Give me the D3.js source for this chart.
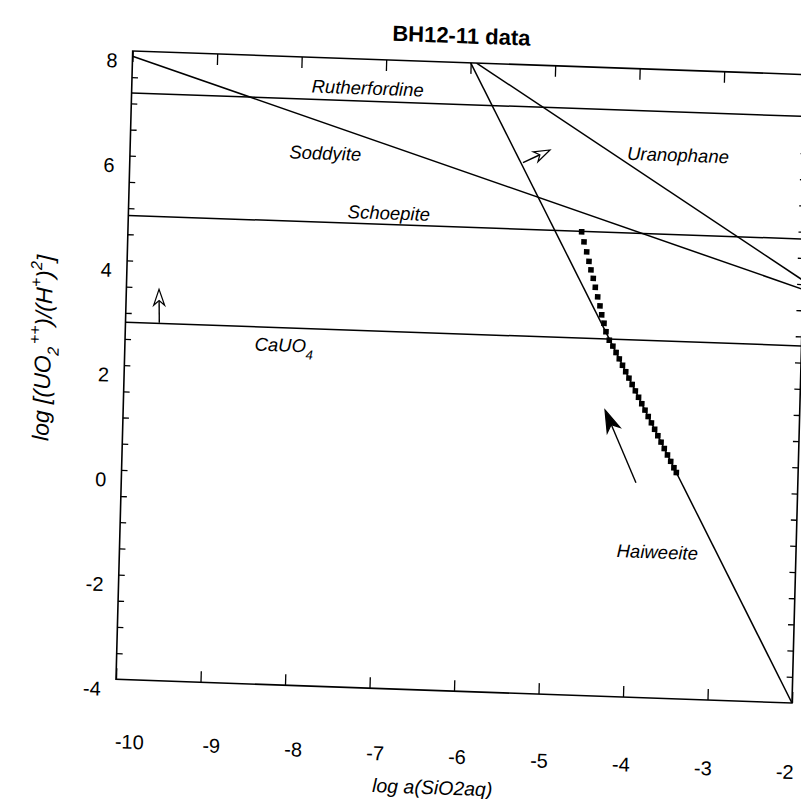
<!DOCTYPE html>
<html><head><meta charset="utf-8">
<script src="https://cdn.jsdelivr.net/npm/d3@7/dist/d3.min.js"></script>
<style>body{margin:0;background:#fff}</style>
</head><body>
<svg id="c" width="801" height="799"></svg>
<script>
// ---------- data ----------
const chartTitle = "BH12-11 data";
const xTicks = [-10, -9, -8, -7, -6, -5, -4, -3, -2];
const xTickLabels = ["-10", "-9", "-8", "-7", "-6", "-5", "-4", "-3", "-2"];
const yTicks = [-4, -2, 0, 2, 4, 6, 8];
const yTickLabels = ["-4", "-2", "0", "2", "4", "6", "8"];
const yMinorTicks = [-3.5, -3, -2.5, -2, -1.5, -1, -0.5, 0, 0.5, 1, 1.5, 2, 2.5, 3, 3.5, 4, 4.5, 5, 5.5, 6, 6.5, 7, 7.5];

// phase boundary lines (log aSiO2, log[UO2++/H+^2])
const boundaryNames = ["Rutherfordine", "Soddyite", "Schoepite", "CaUO4", "Haiweeite", "Uranophane"];
const boundaryX1 = [-10, -10, -10, -10, -6, -5.93];
const boundaryY1 = [7.2, 7.9, 4.86, 2.82, 8, 8];
const boundaryX2 = [-2, -2, -2, -2, -2, -2];
const boundaryY2 = [7.2, 3.9, 4.86, 2.82, -4, 4.07];

// BH12-11 water compositions
const dataX = [-4.635, -4.604, -4.569, -4.539, -4.513, -4.483, -4.456, -4.425, -4.395, -4.372, -4.342, -4.316, -4.274,
  -4.23, -4.19, -4.15, -4.11, -4.07, -4.03, -3.99, -3.95, -3.91, -3.87, -3.83, -3.79, -3.75, -3.71, -3.67, -3.63, -3.59, -3.55, -3.51, -3.47, -3.44];
const dataY = [4.85, 4.66, 4.47, 4.29, 4.13, 3.97, 3.80, 3.62, 3.45, 3.28, 3.12, 2.96, 2.80,
  2.69, 2.57, 2.45, 2.33, 2.21, 2.09, 1.97, 1.85, 1.73, 1.61, 1.49, 1.37, 1.25, 1.13, 1.01, 0.89, 0.77, 0.65, 0.53, 0.41, 0.32];

// field labels
const labelText = ["Rutherfordine", "Soddyite", "Uranophane", "Schoepite", "CaUO", "Haiweeite"];
const labelSub = ["", "", "", "", "4", ""];
const labelX = [-7.21, -7.69, -3.52, -6.92, -8.12, -3.64];
const labelY = [7.45, 6.18, 6.38, 5.08, 2.49, -1.21];

// arrows: tail -> tip
const arrowX1 = [-9.60, -5.35, -3.914];
const arrowY1 = [2.83, 6.13, 0.10];
const arrowX2 = [-9.614, -5.035, -4.303];
const arrowY2 = [3.47, 6.39, 1.466];
const arrowStyle = ["open", "open", "filled"];

// ---------- drawing ----------
const W = 676.4, H = 628.5;
const FONT = "'Liberation Sans', Arial, Helvetica, sans-serif";
const svg = d3.select("#c");
svg.append("rect").attr("width", 801).attr("height", 799).attr("fill", "#fff");
const g = svg.append("g")
  .attr("transform", "matrix(0.99939,0.03504,-0.02657,0.99965,132.7,51)");

const x = d3.scaleLinear().domain([-10, -2]).range([0, W]);
const y = d3.scaleLinear().domain([-4, 8]).range([H, 0]);
// tick label placement (the printed labels sit on a slightly different baseline)
const xLab = d3.scaleLinear().domain([-10, -2]).range([15, 671]);
const xLabV = d3.scaleLinear().domain([-10, -2]).range([H + 62, H + 69]);

g.append("clipPath").attr("id", "clip").append("rect").attr("width", W).attr("height", H);

// ticks (inward)
const axB = g.append("g").attr("transform", `translate(0,${H})`)
  .call(d3.axisBottom(x).tickValues(xTicks).tickSizeInner(-11).tickSizeOuter(0).tickFormat(""));
const axT = g.append("g")
  .call(d3.axisTop(x).tickValues(xTicks).tickSizeInner(-11).tickSizeOuter(0).tickFormat(""));
const axL = g.append("g")
  .call(d3.axisLeft(y).tickValues(yMinorTicks).tickSizeInner(-6).tickSizeOuter(0).tickFormat(""));
const axR = g.append("g").attr("transform", `translate(${W},0)`)
  .call(d3.axisRight(y).tickValues(yMinorTicks).tickSizeInner(-6).tickSizeOuter(0).tickFormat(""));
[axB, axT, axL, axR].forEach(a => {
  a.select(".domain").remove();
  a.selectAll("line").attr("stroke", "#000").attr("stroke-width", 1.3);
});

// frame
g.append("rect").attr("width", W).attr("height", H)
  .attr("fill", "none").attr("stroke", "#000").attr("stroke-width", 1.6);

// tick labels
g.append("g").selectAll("text").data(xTicks).join("text")
  .attr("x", d => xLab(d)).attr("y", d => xLabV(d)).attr("dy", "0.35em")
  .attr("text-anchor", "middle").attr("font-family", FONT).attr("font-size", 20)
  .text((d, i) => xTickLabels[i]);
g.append("g").selectAll("text").data(yTicks).join("text")
  .attr("x", -15).attr("y", d => y(d) + 10).attr("dy", "0.35em")
  .attr("text-anchor", "end").attr("font-family", FONT).attr("font-size", 20)
  .text((d, i) => yTickLabels[i]);

// boundaries
const plot = g.append("g").attr("clip-path", "url(#clip)");
plot.selectAll("line.b").data(boundaryNames).join("line").attr("class", "b")
  .attr("x1", (d, i) => x(boundaryX1[i])).attr("y1", (d, i) => y(boundaryY1[i]))
  .attr("x2", (d, i) => x(boundaryX2[i])).attr("y2", (d, i) => y(boundaryY2[i]))
  .attr("stroke", "#000").attr("stroke-width", 1.5);

// data markers
plot.selectAll("rect.pt").data(dataX).join("rect").attr("class", "pt")
  .attr("x", (d, i) => x(dataX[i]) - 2.8).attr("y", (d, i) => y(dataY[i]) - 2.8)
  .attr("width", 5.6).attr("height", 5.6).attr("fill", "#000");

// field labels
const lab = g.append("g").selectAll("text").data(labelText).join("text")
  .attr("x", (d, i) => x(labelX[i])).attr("y", (d, i) => y(labelY[i])).attr("dy", "0.35em")
  .attr("text-anchor", "middle").attr("font-family", FONT).attr("font-style", "italic")
  .attr("font-size", 18.5);
lab.append("tspan").text(d => d);
lab.append("tspan").attr("dy", 7).attr("font-size", 13).text((d, i) => labelSub[i]);

// arrows
arrowStyle.forEach((s, i) => {
  const x1 = x(arrowX1[i]), y1 = y(arrowY1[i]), x2 = x(arrowX2[i]), y2 = y(arrowY2[i]);
  const len = Math.hypot(x2 - x1, y2 - y1), ux = (x2 - x1) / len, uy = (y2 - y1) / len;
  const px = -uy, py = ux;
  const L = s === "filled" ? 22 : 16, hw = s === "filled" ? 7 : 5.5, notch = s === "filled" ? 0.72 : 0.7;
  const bx = x2 - ux * L, by = y2 - uy * L;
  const nx = x2 - ux * L * notch, ny = y2 - uy * L * notch;
  g.append("line").attr("x1", x1).attr("y1", y1).attr("x2", nx).attr("y2", ny)
    .attr("stroke", "#000").attr("stroke-width", 1.4);
  g.append("path")
    .attr("d", `M${x2},${y2}L${bx + px * hw},${by + py * hw}L${nx},${ny}L${bx - px * hw},${by - py * hw}Z`)
    .attr("fill", s === "filled" ? "#000" : "#fff").attr("stroke", "#000").attr("stroke-width", 1.2)
    .attr("stroke-linejoin", "miter");
});

// title
g.append("text").attr("x", W / 2 - 10).attr("y", -27).attr("dy", "0.35em")
  .attr("text-anchor", "middle").attr("font-family", FONT).attr("font-weight", "bold")
  .attr("font-size", 22).text(chartTitle);

// x axis title
g.append("text").attr("x", 319).attr("y", H + 97).attr("dy", "0.35em")
  .attr("text-anchor", "middle").attr("font-family", FONT).attr("font-style", "italic")
  .attr("font-size", 19.5).text("log a(SiO2aq)");

// y axis title
const yt = g.append("text").attr("transform", "translate(-82,300) rotate(-90)").attr("dy", "0.35em")
  .attr("text-anchor", "middle").attr("font-family", FONT).attr("font-style", "italic")
  .attr("font-size", 23);
yt.append("tspan").text("log [(UO");
yt.append("tspan").attr("dy", 8).attr("font-size", 16).text("2");
yt.append("tspan").attr("dx", 2).attr("dy", -19).attr("font-size", 16).text("++");
yt.append("tspan").attr("dy", 11).text(")/(H");
yt.append("tspan").attr("dy", -11).attr("font-size", 16).text("+");
yt.append("tspan").attr("dy", 11).text(")");
yt.append("tspan").attr("dy", -11).attr("font-size", 16).text("2");
yt.append("tspan").attr("dy", 11).text("]");
</script>
</body></html>
